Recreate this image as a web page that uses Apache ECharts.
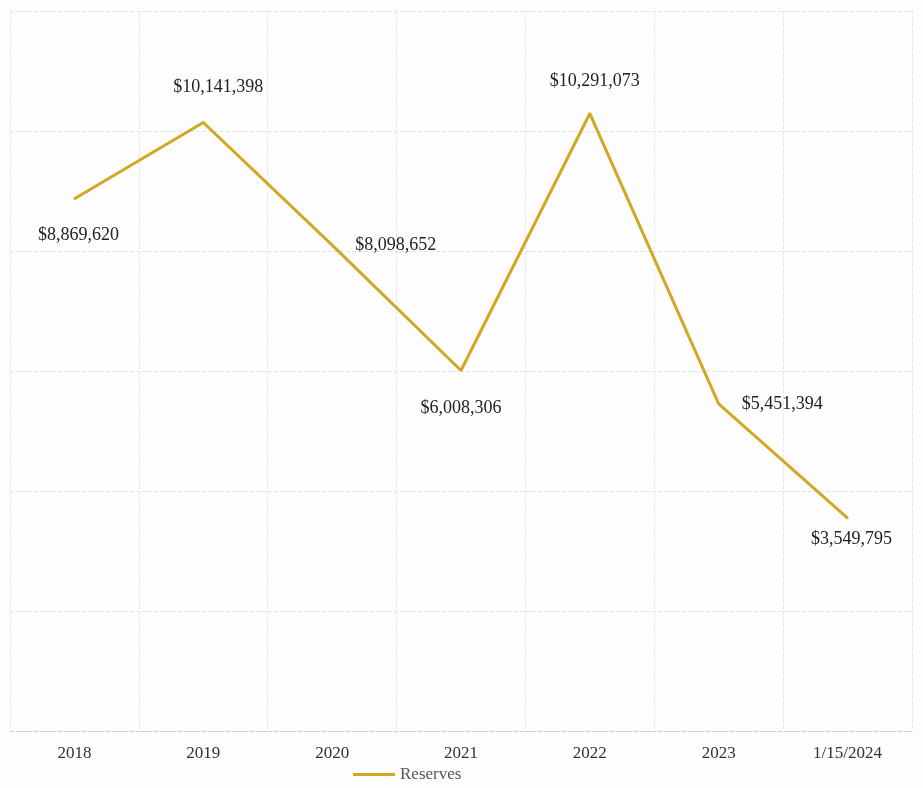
<!DOCTYPE html>
<html>
<head>
<meta charset="utf-8">
<script src="https://cdn.jsdelivr.net/npm/echarts@6/dist/echarts.min.js"></script>
<style>
  html, body { margin: 0; padding: 0; background: #fdfdfd; }
  #chart { width: 923px; height: 788px; }
</style>
</head>
<body>
<div id="chart"></div>
<script>
const categories = [ '2018', '2019', '2020', '2021', '2022', '2023', '1/15/2024' ]
const reserves = [ 8869620, 10141398, 8098652, 6008306, 10291073, 5451394, 3549795 ]
const labelSides = [ 'bottom', 'top', 'right', 'bottom', 'top', 'right', 'bottom' ]
const labelGaps = [ 26, 25, 22, 28, 22, 22, 11 ]
const labelShifts = [ 4, 15, 0, 0, 5, 0, 4 ]

const fmt = v => '$' + v.toLocaleString( 'en-US' )

const chart = echarts.init( document.getElementById( 'chart' ) )

chart.setOption( {
  textStyle : { fontFamily : 'Liberation Serif' },
  grid : {
    top : 11,
    left : 10,
    right : 11,
    bottom : 57,
    containLabel : false
  },
  legend : {
    bottom : 0,
    left : 348,
    icon : 'rect',
    itemWidth : 42,
    itemHeight : 3,
    itemGap : 4,
    textStyle : { fontSize : 17, color : '#555', fontFamily : 'Liberation Serif' },
    data : [ 'Reserves' ]
  },
  xAxis : {
    type : 'category',
    data : categories,
    axisLine : { show : true, lineStyle : { color : '#c8ccd2', type : 'dashed' } },
    axisTick : { show : false },
    axisLabel : { fontSize : 17, color : '#333', margin : 14 },
    splitLine : { show : true, lineStyle : { color : '#e4e7ec', type : 'dashed' } }
  },
  yAxis : {
    type : 'value',
    min : 0,
    max : 12000000,
    interval : 2000000,
    axisLabel : { show : false },
    axisLine : { show : false },
    axisTick : { show : false },
    splitLine : { show : true, lineStyle : { color : '#e2e6ec', type : 'dashed' } }
  },
  series : [
    {
      name : 'Reserves',
      type : 'line',
      data : reserves.map( ( v, i ) => ( {
        value : v,
        label : {
          position : labelSides[ i ],
          distance : labelGaps[ i ],
          offset : [ labelShifts[ i ], 0 ]
        }
      } ) ),
      color : '#d2a822',
      lineStyle : { width : 3, color : '#d2a822' },
      showSymbol : true,
      symbol : 'circle',
      symbolSize : 2,
      itemStyle : { color : '#d2a822' },
      label : {
        show : true,
        fontSize : 18,
        color : '#222',
        formatter : p => fmt( p.value )
      }
    }
  ]
} )
</script>
</body>
</html>
